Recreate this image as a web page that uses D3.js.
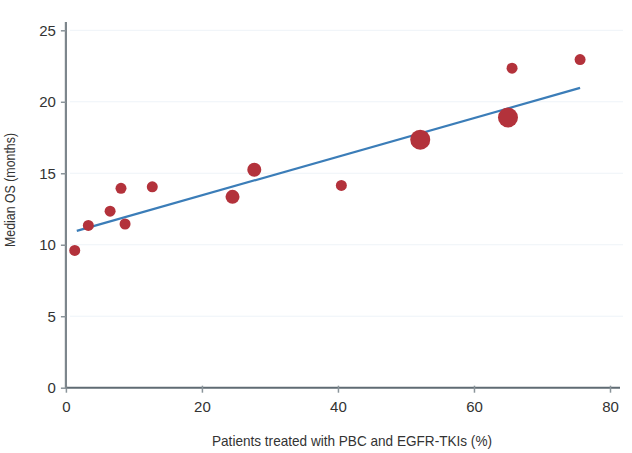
<!DOCTYPE html>
<html><head><meta charset="utf-8">
<script src="https://cdn.jsdelivr.net/npm/d3@7"></script>
<style>body{margin:0;background:#fff}svg{display:block}text{font-family:"Liberation Sans",Arial,sans-serif;fill:#333}</style>
</head><body><svg id="c" width="632" height="453"></svg>
<script>
const xValues = [1.3, 3.3, 6.5, 8.1, 8.7, 12.7, 24.5, 27.7, 40.5, 52.1, 65.0, 65.6, 75.6];
const yValues = [9.6, 11.35, 12.35, 13.95, 11.45, 14.05, 13.35, 15.25, 14.15, 17.35, 18.9, 22.35, 22.95];
const sizeValues = [5.5, 5.5, 5.5, 5.5, 5.5, 5.5, 7, 7, 5.5, 10, 10, 5.5, 5.5];
const fitX = [1.6, 75.6];
const fitY = [10.97, 20.97];
const xTicks = [0, 20, 40, 60, 80];
const yTicks = [0, 5, 10, 15, 20, 25];

const svg = d3.select("#c");
const x = d3.scaleLinear().domain([0, 80]).range([65.9, 610]);
const y = d3.scaleLinear().domain([0, 25]).range([387.7, 30.3]);

// grid
svg.append("g").selectAll("line").data(yTicks.filter(d => d > 0)).join("line")
  .attr("x1", 70).attr("x2", 623).attr("y1", d => y(d)).attr("y2", d => y(d))
  .attr("stroke", "#eef3f8").attr("stroke-width", 1);

// x axis
const xa = svg.append("g").attr("transform", `translate(0,${y(0)})`)
  .call(d3.axisBottom(x).tickValues(xTicks).tickSize(5).tickPadding(9).tickSizeOuter(0));
xa.select(".domain").attr("stroke", "#5f6b73").attr("stroke-width", 2).attr("d", `M${x(0)},0H620`);
xa.selectAll(".tick line").attr("stroke", "#8a949a").attr("stroke-width", 1.5).attr("y1", -2);
xa.selectAll(".tick text").attr("font-size", 15).attr("fill", "#333");

// y axis
const ya = svg.append("g").attr("transform", `translate(${x(0)},0)`)
  .call(d3.axisLeft(y).tickValues(yTicks).tickSize(5).tickPadding(5).tickSizeOuter(0));
ya.select(".domain").attr("stroke", "#7d868c").attr("stroke-width", 2.2).attr("d", `M0,22V${y(0)+1}`);
ya.selectAll(".tick line").attr("stroke", "#8a949a").attr("stroke-width", 1.5);
ya.selectAll(".tick text").attr("font-size", 15).attr("fill", "#333");

// fit line
svg.append("line")
  .attr("x1", x(fitX[0])).attr("y1", y(fitY[0]))
  .attr("x2", x(fitX[1])).attr("y2", y(fitY[1]))
  .attr("stroke", "#3b7db8").attr("stroke-width", 2.2);

// points
svg.append("g").selectAll("circle").data(xValues.map((d, i) => ({x: d, y: yValues[i], r: sizeValues[i]})))
  .join("circle")
  .attr("cx", d => x(d.x)).attr("cy", d => y(d.y)).attr("r", d => d.r)
  .attr("fill", "#b3323b");

// labels
svg.append("text").attr("x", 352).attr("y", 446).attr("text-anchor", "middle")
  .attr("font-size", 15).attr("textLength", 280).attr("lengthAdjust", "spacingAndGlyphs")
  .text("Patients treated with PBC and EGFR-TKIs (%)");
svg.append("text").attr("transform", "translate(15,190) rotate(-90)").attr("text-anchor", "middle")
  .attr("font-size", 15).attr("textLength", 114).attr("lengthAdjust", "spacingAndGlyphs")
  .text("Median OS (months)");
</script></body></html>
